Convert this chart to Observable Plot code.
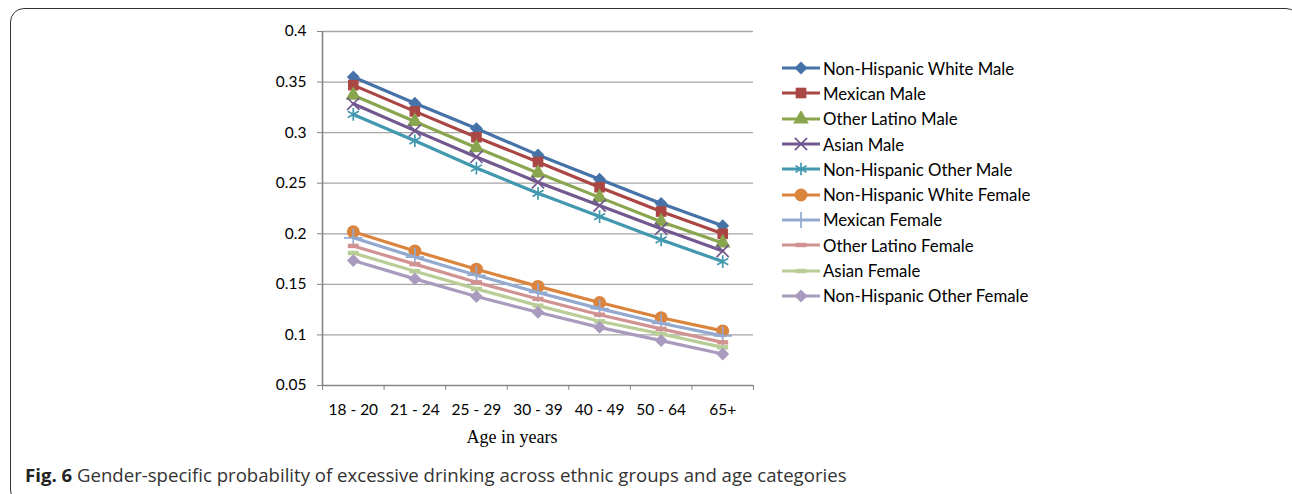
<!DOCTYPE html>
<html><head><meta charset="utf-8">
<script src="https://cdn.jsdelivr.net/npm/d3@7"></script>
<script src="https://cdn.jsdelivr.net/npm/@observablehq/plot@0.6"></script>
<style>
body{margin:0;background:#fff;width:1292px;height:494px;overflow:hidden;position:relative;font-family:Lato,sans-serif}
#box{position:absolute;left:10px;top:8px;width:1290px;height:496px;border:1.5px solid #333;border-radius:14px;box-sizing:border-box}
#chart{position:absolute;left:0;top:0}
#legend{position:absolute;left:781px;top:55.5px}
.row{height:25.3px;display:flex;align-items:center;font-size:16.8px;color:#000;white-space:nowrap}
.row svg{margin-right:2px;flex:none}
#xlabel{position:absolute;left:512px;top:427px;transform:translateX(-50%);font-family:"Liberation Serif",serif;font-size:18px;color:#000}
#caption{position:absolute;left:25px;top:462px;font-family:"Open Sans",sans-serif;font-size:18.6px;color:#333;white-space:nowrap}
#caption b{color:#222}
</style></head><body>
<div id="box"></div>
<div id="chart"></div>
<div id="legend"></div>
<div id="xlabel">Age in years</div>
<div id="caption"><b>Fig. 6</b> Gender-specific probability of excessive drinking across ethnic groups and age categories</div>
<script>
const ages = ["18 - 20","21 - 24","25 - 29","30 - 39","40 - 49","50 - 64","65+"];
const yTicks = [0.05,0.1,0.15,0.2,0.25,0.3,0.35,0.4];
const seriesNames = ["Non-Hispanic White Male","Mexican Male","Other Latino Male","Asian Male","Non-Hispanic Other Male","Non-Hispanic White Female","Mexican Female","Other Latino Female","Asian Female","Non-Hispanic Other Female"];
const seriesColors = ["#4572A7","#AA4643","#89A54E","#71588F","#4198AF","#DB843D","#93A9CF","#D19392","#B9CD96","#A99BBD"];
const nhwMale = [0.355,0.329,0.304,0.278,0.254,0.230,0.208];
const mexMale = [0.347,0.321,0.2955,0.271,0.246,0.222,0.200];
const olMale  = [0.337,0.311,0.285,0.260,0.236,0.212,0.191];
const asMale  = [0.3285,0.302,0.276,0.251,0.228,0.205,0.183];
const nhoMale = [0.318,0.292,0.265,0.240,0.217,0.194,0.1725];
const nhwFem  = [0.202,0.183,0.165,0.148,0.132,0.117,0.104];
const mexFem  = [0.196,0.177,0.159,0.142,0.126,0.1115,0.099];
const olFem   = [0.188,0.170,0.152,0.1356,0.120,0.106,0.0927];
const asFem   = [0.181,0.163,0.1455,0.129,0.1135,0.101,0.0877];
const nhoFem  = [0.1735,0.1554,0.138,0.1224,0.1075,0.0944,0.0812];
const seriesValues = [nhwMale,mexMale,olMale,asMale,nhoMale,nhwFem,mexFem,olFem,asFem,nhoFem];

const dash = {draw(ctx){ ctx.moveTo(-5.5,-2.2); ctx.lineTo(5.5,-2.2); ctx.lineTo(5.5,2.2); ctx.lineTo(-5.5,2.2); ctx.closePath(); }};
// marker style per series: [symbol, r, filled]
const markers = [["diamond2",5.8,true],["square",6,true],["triangle",5.8,true],["times",5.6,false],["asterisk",6,false],["circle",6.5,true],["plus",6,false],[dash,5,true],[dash,5,true],["diamond2",5.8,true]];

const rows = seriesNames.map((s,k)=>seriesValues[k].map((v,i)=>({series:s,i,v})));
const xEdges = d3.range(ages.length+1).map(i=>i-0.5);

const marks = [
  Plot.gridY(yTicks.slice(1), {stroke:"#A6A6A6", strokeOpacity:1, strokeWidth:1.3}),
  Plot.ruleY([yTicks[0]], {stroke:"#868686", strokeWidth:1.6}),
  Plot.ruleX([xEdges[0]], {stroke:"#868686", strokeWidth:1.6}),
  Plot.axisY({ticks:yTicks, tickSize:5, tickPadding:11, tickFormat:d=>String(d), stroke:"#868686", fontSize:15.5, label:null}),
  Plot.axisX({ticks:d3.range(ages.length), tickSize:0, tickPadding:18, tickFormat:i=>ages[i], fontSize:15.5, label:null}),
  Plot.axisX({ticks:xEdges, tickSize:5, tickFormat:()=>"", stroke:"#868686", label:null})
];
rows.forEach((data,k)=>{
  const c = seriesColors[k];
  const [sym,r,filled] = markers[k];
  marks.push(Plot.line(data,{x:"i",y:"v",stroke:c,strokeWidth:3.2}));
  marks.push(Plot.dot(data,{x:"i",y:"v",symbol:sym,r,fill:filled?c:"none",stroke:filled?"none":c,strokeWidth:1.7}));
});

const chart = Plot.plot({
  width:1292, height:494,
  marginLeft:322, marginRight:539, marginTop:31, marginBottom:109,
  style:{fontFamily:"Lato, sans-serif", fontSize:"15.5px", background:"transparent", color:"#000"},
  x:{domain:[-0.5, ages.length-0.5], axis:null},
  y:{domain:[yTicks[0], yTicks[yTicks.length-1]], axis:null},
  marks
});
document.getElementById("chart").append(chart);

// legend
const leg = document.getElementById("legend");
seriesNames.forEach((s,k)=>{
  const [sym,r,filled] = markers[k];
  const row = document.createElement("div"); row.className="row";
  const svg = d3.create("svg").attr("width",40).attr("height",16);
  svg.append("line").attr("x1",1).attr("x2",39).attr("y1",8).attr("y2",8).attr("stroke",seriesColors[k]).attr("stroke-width",3.2);
  const symType = typeof sym === "string" ? {diamond2:d3.symbolDiamond2,square:d3.symbolSquare,triangle:d3.symbolTriangle,times:d3.symbolTimes,asterisk:d3.symbolAsterisk,circle:d3.symbolCircle,plus:d3.symbolPlus}[sym] : sym;
  svg.append("path").attr("transform","translate(20,8)").attr("d",d3.symbol(symType, Math.PI*r*r)())
     .attr("fill",filled?seriesColors[k]:"none").attr("stroke",filled?"none":seriesColors[k]).attr("stroke-width",1.7);
  row.append(svg.node());
  const t = document.createElement("span"); t.textContent = s; row.append(t);
  leg.append(row);
});
</script>
</body></html>
